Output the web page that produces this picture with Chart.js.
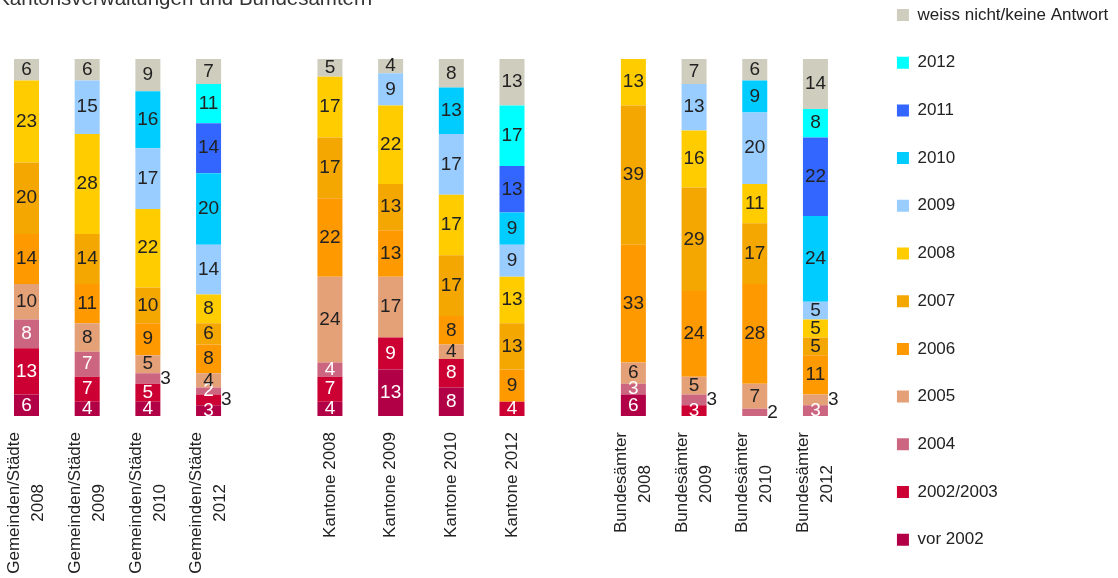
<!DOCTYPE html>
<html>
<head>
<meta charset="utf-8">
<script src="https://cdn.jsdelivr.net/npm/chart.js@4"></script>
<style>
  html, body { margin: 0; padding: 0; background: #fff; overflow: hidden; }
  #wrap { position: absolute; left: -10px; top: -30px; width: 1150px; height: 680px; }
</style>
</head>
<body>
<div id="wrap"><canvas id="chart"></canvas></div>
<script>
const FONT = '"Liberation Sans", Arial, sans-serif'

// x categories (gaps between the three groups are empty categories)
const categories = [
    ['Gemeinden/Städte', '2008'], ['Gemeinden/Städte', '2009'], ['Gemeinden/Städte', '2010'], ['Gemeinden/Städte', '2012'],
    '',
    'Kantone 2008', 'Kantone 2009', 'Kantone 2010', 'Kantone 2012',
    '',
    ['Bundesämter', '2008'], ['Bundesämter', '2009'], ['Bundesämter', '2010'], ['Bundesämter', '2012']
]

// series, bottom of the stack first (percent)
const seriesNames = ['vor 2002', '2002/2003', '2004', '2005', '2006', '2007', '2008', '2009', '2010', '2011', '2012', 'weiss nicht/keine Antwort']
const vor2002    = [6, 4, 4, 3, null, 4, 13, 8, 0, null, 6, 0, 0, 0]
const y2002_2003 = [13, 7, 5, 3, null, 7, 9, 8, 4, null, 0, 3, 0, 0]
const y2004      = [8, 7, 3, 2, null, 4, 0, 0, 0, null, 3, 3, 2, 3]
const y2005      = [10, 8, 5, 4, null, 24, 17, 4, 0, null, 6, 5, 7, 3]
const y2006      = [14, 11, 9, 8, null, 22, 13, 8, 9, null, 33, 24, 28, 11]
const y2007      = [20, 14, 10, 6, null, 17, 13, 17, 13, null, 39, 29, 17, 5]
const y2008      = [23, 28, 22, 8, null, 17, 22, 17, 13, null, 13, 16, 11, 5]
const y2009      = [0, 15, 17, 14, null, 0, 9, 17, 9, null, 0, 13, 20, 5]
const y2010      = [0, 0, 16, 20, null, 0, 0, 13, 9, null, 0, 0, 9, 24]
const y2011      = [0, 0, 0, 14, null, 0, 0, 0, 13, null, 0, 0, 0, 22]
const y2012      = [0, 0, 0, 11, null, 0, 0, 0, 17, null, 0, 0, 0, 8]
const weissNicht = [6, 6, 9, 7, null, 5, 4, 8, 13, null, 0, 7, 6, 14]

const seriesValues = [vor2002, y2002_2003, y2004, y2005, y2006, y2007, y2008, y2009, y2010, y2011, y2012, weissNicht]
const colors = ['#B10046', '#CC0033', '#CC6680', '#E4A077', '#FF9900', '#F4A700', '#FFCC00',
                '#99CCFF', '#00CCFF', '#3366FF', '#00FFFF', '#CFCEBE']

// labels drawn beside the bar instead of inside: [series index, category index]
const outsideLabels = [[2, 2], [1, 3], [2, 11], [2, 12], [3, 13]]

// second line of a two-line label is centred under the first one
const measure = document.createElement('canvas').getContext('2d')
measure.font = '17px ' + FONT
const spaceW = measure.measureText(' ').width
const tickLabels = categories.map(c => {
    if (typeof c === 'string') return ['', c]
    let pad = (measure.measureText(c[0]).width - measure.measureText(c[1]).width) / 2
    return [c[0], c[1] + ' '.repeat(Math.round(pad / spaceW))]
})

const segmentLabels = {
    id: 'segmentLabels',
    afterDatasetsDraw(chart) {
        const ctx = chart.ctx
        ctx.save()
        ctx.font = '19px ' + FONT
        ctx.textBaseline = 'middle'
        chart.data.datasets.forEach((ds, di) => {
            chart.getDatasetMeta(di).data.forEach((bar, i) => {
                const v = ds.data[i]
                if (!v) return
                const y = (bar.y + bar.base) / 2
                const outside = outsideLabels.some(o => o[0] === di && o[1] === i)
                if (outside) {
                    ctx.textAlign = 'left'
                    ctx.fillStyle = '#222'
                    ctx.fillText(v, bar.x + bar.width / 2, y)
                } else {
                    ctx.textAlign = 'center'
                    ctx.fillStyle = di < 3 ? '#fff' : '#222'
                    ctx.fillText(v, bar.x, y)
                }
            })
        })
        ctx.restore()
    }
}

new Chart(document.getElementById('chart'), {
    type: 'bar',
    data: {
        labels: categories.map((c, i) => i),
        datasets: seriesNames.map((name, i) => ({
            label: name,
            data: seriesValues[i],
            backgroundColor: colors[i],
            borderWidth: 0,
            barPercentage: 0.412,
            categoryPercentage: 1
        }))
    },
    options: {
        responsive: true,
        maintainAspectRatio: false,
        animation: false,
        layout: {
            padding: { top: 5.8, left: 6.15, right: 21.7, bottom: 0 }
        },
        plugins: {
            tooltip: { enabled: false },
            title: {
                display: true,
                text: 'Kantonsverwaltungen und Bundesämtern',
                align: 'start',
                fullSize: false,
                color: '#333',
                font: { family: FONT, size: 20.5, weight: 'normal' },
                padding: { top: 11.5, bottom: 47.1 }
            },
            legend: {
                position: 'right',
                align: 'start',
                reverse: true,
                labels: {
                    boxWidth: 12,
                    boxHeight: 12,
                    padding: 30.7,
                    color: '#222',
                    font: { family: FONT, size: 17 }
                }
            }
        },
        scales: {
            x: {
                stacked: true,
                grid: { display: false, drawTicks: false },
                border: { display: false },
                ticks: {
                    autoSkip: false,
                    minRotation: 90,
                    maxRotation: 90,
                    padding: 16,
                    labelOffset: -12,
                    color: '#222',
                    font: c => ({ family: FONT, size: 17, lineHeight: tickLabels[c.index][0] === '' ? '12px' : '24px' }),
                    callback: (v, i) => tickLabels[i]
                },
                afterFit: s => { s.height = 234 }
            },
            y: {
                stacked: true,
                position: 'right',
                min: 0,
                max: 100,
                grid: { display: false },
                border: { display: false },
                ticks: { display: false },
                afterFit: s => { s.width = 20.45 }
            }
        }
    },
    plugins: [segmentLabels]
})
</script>
</body>
</html>
